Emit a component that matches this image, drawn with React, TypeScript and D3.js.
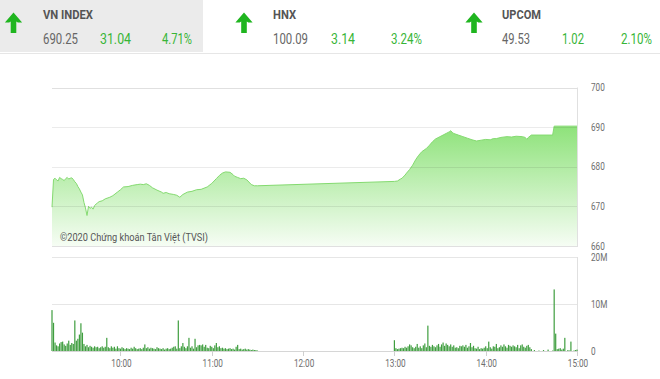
import React from "react";
import * as d3 from "d3";

// ---------- DATA ----------
const indexNames = ["VN INDEX", "HNX", "UPCOM"];
const indexValues = ["690.25", "100.09", "49.53"];
const indexChanges = ["31.04", "3.14", "1.02"];
const indexPercents = ["4.71%", "3.24%", "2.10%"];

const priceTicks = [660, 670, 680, 690, 700];
const volumeTicks = [0, 10, 20]; // millions
const volumeTickLabels = ["0", "10M", "20M"];
const timeTicks = ["10:00", "11:00", "12:00", "13:00", "14:00", "15:00"];

const priceSeries: [string, number][] = [
  ["9:15", 669.8], ["9:16", 676.8], ["9:17", 677.1], ["9:18", 676.7], ["9:19", 676.4],
  ["9:20", 677.3], ["9:21", 677.0], ["9:22", 676.8], ["9:23", 676.5], ["9:24", 677.0],
  ["9:25", 677.3], ["9:26", 676.9], ["9:27", 677.1], ["9:28", 677.2], ["9:29", 676.8],
  ["9:30", 676.2], ["9:31", 675.8], ["9:32", 675.0], ["9:33", 674.4], ["9:34", 673.6],
  ["9:35", 672.9], ["9:36", 671.0], ["9:37", 669.6], ["9:38", 667.7], ["9:39", 670.0],
  ["9:40", 669.5], ["9:41", 669.8], ["9:42", 669.3], ["9:43", 670.2], ["9:44", 670.6],
  ["9:45", 670.9], ["9:46", 671.2], ["9:48", 671.4], ["9:50", 671.9], ["9:53", 672.3],
  ["9:55", 672.7], ["9:58", 673.6], ["10:00", 674.2], ["10:02", 674.9], ["10:05", 675.0],
  ["10:08", 675.3], ["10:11", 675.5], ["10:13", 675.6], ["10:15", 675.5], ["10:17", 675.7],
  ["10:19", 675.3], ["10:21", 674.7], ["10:24", 674.1], ["10:27", 673.6], ["10:28", 673.3],
  ["10:30", 673.5], ["10:32", 673.2], ["10:35", 673.0], ["10:37", 672.8], ["10:39", 672.3],
  ["10:41", 673.0], ["10:44", 673.6], ["10:47", 673.8], ["10:50", 674.2], ["10:53", 674.3],
  ["10:57", 674.9], ["11:00", 675.8], ["11:03", 677.0], ["11:05", 677.8], ["11:07", 678.4],
  ["11:09", 678.7], ["11:12", 678.6], ["11:14", 678.0], ["11:15", 677.6], ["11:17", 677.3],
  ["11:19", 677.0], ["11:21", 677.1], ["11:23", 676.7], ["11:25", 675.9], ["11:26", 675.5],
  ["11:28", 675.2], ["11:30", 675.2],
  ["13:00", 676.3], ["13:02", 676.4], ["13:04", 676.9], ["13:05", 677.1], ["13:07", 677.9],
  ["13:08", 678.4], ["13:10", 679.3], ["13:12", 680.4], ["13:14", 681.8], ["13:16", 682.9],
  ["13:18", 683.8], ["13:21", 684.6], ["13:23", 685.4], ["13:25", 686.3], ["13:27", 687.0],
  ["13:30", 687.6], ["13:32", 688.0], ["13:34", 688.4], ["13:36", 688.8], ["13:37", 689.1],
  ["13:38", 688.7], ["13:39", 688.4], ["13:42", 688.0], ["13:45", 687.6], ["13:48", 687.2],
  ["13:51", 686.8], ["13:54", 686.5], ["13:57", 686.7], ["14:00", 686.9], ["14:03", 686.8],
  ["14:05", 687.1], ["14:07", 687.1], ["14:10", 687.4], ["14:14", 687.6], ["14:17", 687.5],
  ["14:20", 687.7], ["14:24", 687.6], ["14:26", 687.4], ["14:27", 686.9], ["14:28", 687.4],
  ["14:30", 688.0], ["14:44", 688.0], ["14:45", 690.25], ["15:00", 690.25],
];

// volume per minute (millions), morning session starting 9:15
const morningVolumeStart = "9:15";
const morningVolume = [
  8.7, 6.0, 1.8, 1.2, 1.0, 1.6, 1.9, 2.0, 1.4, 1.1,
  1.6, 2.2, 1.3, 1.7, 1.5, 6.5, 2.2, 2.6, 3.5, 5.9,
  3.9, 1.5, 1.0, 1.3, 0.8, 1.1, 0.9, 0.7, 1.0, 0.8,
  0.9, 0.6, 0.8, 1.0, 0.7, 0.9, 2.8, 0.8, 0.6, 1.0,
  0.7, 0.9, 0.5, 1.0, 0.6, 0.5, 0.8, 0.6, 0.4, 0.6,
  0.5, 0.4, 0.7, 0.5, 0.9, 0.6, 0.4, 0.5, 0.6, 0.4,
  0.7, 1.4, 0.6, 0.8, 0.5, 0.7, 0.6, 0.5, 0.4, 0.8,
  0.6, 0.5, 0.4, 0.6, 0.3, 0.5, 0.6, 0.4, 0.5, 0.7,
  0.9, 1.0, 0.5, 6.5, 0.6, 1.0, 1.7, 0.9, 0.6, 1.0,
  2.8, 0.7, 1.0, 0.5, 2.6, 0.8, 1.2, 1.3, 1.2, 1.4,
  0.9, 1.3, 0.7, 0.6, 1.1, 0.9, 0.6, 1.2, 1.7, 0.8,
  1.0, 0.6, 0.7, 0.5, 0.6, 0.4, 0.5, 0.6, 0.4, 0.5,
  0.3, 0.9, 1.3, 0.4, 0.5, 0.3, 0.4, 0.5, 0.3, 0.4,
  0.3, 0.2, 0.3, 0.2, 0.2, 0.1,
];
// volume per minute (millions), afternoon session starting 13:00
const afternoonVolumeStart = "13:00";
const afternoonVolume = [
  2.3, 0.6, 0.4, 0.5, 0.6, 0.7, 0.6, 0.9, 0.7, 1.0,
  1.4, 1.2, 0.8, 0.6, 0.9, 1.5, 0.7, 1.0, 0.6, 1.2,
  1.6, 0.8, 5.4, 1.1, 0.9, 1.3, 1.0, 0.8, 1.2, 1.5,
  0.9, 1.4, 1.8, 1.1, 1.6, 1.3, 1.0, 1.4, 0.9, 1.2,
  0.7, 0.8, 0.6, 1.1, 1.0, 1.2, 0.9, 1.3, 0.7, 1.0,
  1.7, 0.8, 1.1, 0.6, 0.5, 0.9, 0.4, 0.6, 0.5, 0.7,
  1.0, 0.6, 2.0, 0.8, 0.5, 1.0, 0.9, 1.5, 0.6, 0.8,
  1.2, 0.9, 1.4, 1.0, 0.7, 1.3, 1.1, 0.9, 1.2, 1.0,
  0.8, 1.3, 0.6, 1.2, 1.4, 0.9, 0.7, 1.1, 1.3, 0.8,
  0.4, 0, 0.2, 0, 0, 0.1, 0, 0, 0.2, 0,
  0, 0.3, 0, 0, 0.1, 13.1, 3.7, 0.4, 0.5, 0.6,
  0.3, 0.5, 2.8, 0, 0.2, 0.1, 2.0, 0, 0.1, 0.2,
  0.3,
];

// ---------- LAYOUT ----------
const W = 660;
const H = 379;
const plotLeft = 52;
const plotRight = 578;
const priceTop = 87.5;
const priceBottom = 246;
const volTop = 257;
const volBottom = 351;
const axisLabelX = 591;

const headerLayout = [
  { arrowX: 13.5, x: 43, cx: 100, px: 162, titleW: 50, valW: 35, chW: 31, pcW: 30 },
  { arrowX: 244, x: 273, cx: 331, px: 391, titleW: 23, valW: 35, chW: 24, pcW: 31 },
  { arrowX: 474, x: 502, cx: 562, px: 621, titleW: 39, valW: 28, chW: 22, pcW: 31 },
];

const parseT = (s: string) => {
  const [h, m] = s.split(":").map(Number);
  return new Date(2020, 0, 1, h, m);
};

const GREEN = "#37b537";
const FONT = "Roboto, 'Noto Sans', sans-serif";

function Arrow({ cx }: { cx: number }) {
  const tipY = 12.5;
  const headY = 22.5;
  const hw = 8.6;
  const sw = 2.8;
  const bot = 33;
  const pts = [
    [cx, tipY],
    [cx + hw, headY],
    [cx + sw + 1.5, headY],
    [cx + sw, headY - 1],
    [cx + sw, bot],
    [cx - sw, bot],
    [cx - sw, headY - 1],
    [cx - sw - 1.5, headY],
    [cx - hw, headY],
  ];
  return <polygon points={pts.map((p) => p.join(",")).join(" ")} fill="#1fb51f" />;
}

export default function App() {
  const x = d3
    .scaleTime()
    .domain([parseT("9:15"), parseT("15:00")])
    .range([plotLeft, 577]);
  const yP = d3.scaleLinear().domain([660, 700]).range([priceBottom, priceTop]);
  const yV = d3.scaleLinear().domain([0, 20]).range([volBottom, volTop]);

  const pts = priceSeries.map(([t, v]) => ({ t: parseT(t), v }));
  const area = d3
    .area<{ t: Date; v: number }>()
    .x((d) => x(d.t))
    .y0(priceBottom)
    .y1((d) => yP(d.v));
  const line = d3
    .line<{ t: Date; v: number }>()
    .x((d) => x(d.t))
    .y((d) => yP(d.v));

  const bars: { t: Date; v: number }[] = [];
  const mStart = parseT(morningVolumeStart);
  morningVolume.forEach((v, i) => bars.push({ t: d3.timeMinute.offset(mStart, i), v }));
  const aStart = parseT(afternoonVolumeStart);
  afternoonVolume.forEach((v, i) => bars.push({ t: d3.timeMinute.offset(aStart, i), v }));

  const labelStyle = { fontFamily: FONT, fontSize: 10, fill: "#6e6e6e" };

  return (
    <svg
      width={W}
      height={H}
      style={{ position: "absolute", left: 0, top: 0, display: "block", background: "#fff" }}
    >
      <defs>
        <linearGradient id="pf" gradientUnits="userSpaceOnUse" x1="0" x2="0" y1={yP(690.5)} y2={priceBottom}>
          <stop offset="0" stopColor="#8de279" />
          <stop offset="1" stopColor="#f6fdf4" />
        </linearGradient>
      </defs>

      {/* header */}
      <rect x={0} y={0} width={203} height={52} fill="#ebebeb" />
      <line x1={0} x2={W} y1={53.5} y2={53.5} stroke="#e6e6e6" />
      {indexNames.map((n, i) => {
        const L = headerLayout[i];
        return (
          <g key={n}>
            <Arrow cx={L.arrowX} />
            <text x={L.x} y={18.5} fontFamily={FONT} fontWeight="bold" fontSize={12.5} fill="#555"
              textLength={L.titleW} lengthAdjust="spacingAndGlyphs">{n}</text>
            <text x={L.x} y={44} fontFamily={FONT} fontSize={14.5} fill="#666"
              textLength={L.valW} lengthAdjust="spacingAndGlyphs">{indexValues[i]}</text>
            <text x={L.cx} y={44} fontFamily={FONT} fontSize={14.5} fill={GREEN}
              textLength={L.chW} lengthAdjust="spacingAndGlyphs">{indexChanges[i]}</text>
            <text x={L.px} y={44} fontFamily={FONT} fontSize={14.5} fill={GREEN}
              textLength={L.pcW} lengthAdjust="spacingAndGlyphs">{indexPercents[i]}</text>
          </g>
        );
      })}

      {/* price chart */}
      <path d={area(pts) || ""} fill="url(#pf)" />
      <path d={line(pts) || ""} fill="none" stroke="#84da70" strokeWidth={1} />
      {priceTicks.map((t) => (
        <g key={t}>
          <line x1={plotLeft} x2={plotRight} y1={Math.round(yP(t)) + 0.5} y2={Math.round(yP(t)) + 0.5}
            stroke={t === 660 || t === 700 ? "#e0e0e0" : "rgba(0,0,0,0.08)"} />
          <text transform={`translate(${axisLabelX},${yP(t) + 3.5}) scale(0.82,1)`} {...labelStyle}>{t}</text>
        </g>
      ))}
      <line x1={plotRight - 0.5} x2={plotRight - 0.5} y1={priceTop} y2={priceBottom} stroke="#e0e0e0" />
      <text x={60} y={241} fontFamily={FONT} fontSize={11} fill="#555"
        textLength={148} lengthAdjust="spacingAndGlyphs">©2020 Chứng khoán Tân Việt (TVSI)</text>

      {/* volume chart */}
      {volumeTicks.map((t, i) => (
        <g key={t}>
          <line x1={plotLeft} x2={plotRight} y1={Math.round(yV(t)) + 0.5} y2={Math.round(yV(t)) + 0.5}
            stroke={t === 0 ? "#d6d6d6" : "#e6e6e6"} />
          <text transform={`translate(${axisLabelX},${yV(t) + 3.5}) scale(0.82,1)`} {...labelStyle}>
            {volumeTickLabels[i]}
          </text>
        </g>
      ))}
      <line x1={plotRight - 0.5} x2={plotRight - 0.5} y1={volTop} y2={volBottom} stroke="#e0e0e0" />
      {bars.filter((b) => b.v > 0).map((b, i) => (
        <rect key={i} x={x(b.t) - 0.6} width={1.2} y={yV(b.v)} height={volBottom - yV(b.v)} fill="#3f9e3f" />
      ))}
      {timeTicks.map((t) => (
        <g key={t}>
          <line x1={Math.round(x(parseT(t))) + 0.5} x2={Math.round(x(parseT(t))) + 0.5}
            y1={volBottom} y2={volBottom + 5} stroke="#cfcfcf" />
          <text transform={`translate(${x(parseT(t)) + 1},${367}) scale(0.82,1)`} textAnchor="middle" {...labelStyle}>{t}</text>
        </g>
      ))}
    </svg>
  );
}
